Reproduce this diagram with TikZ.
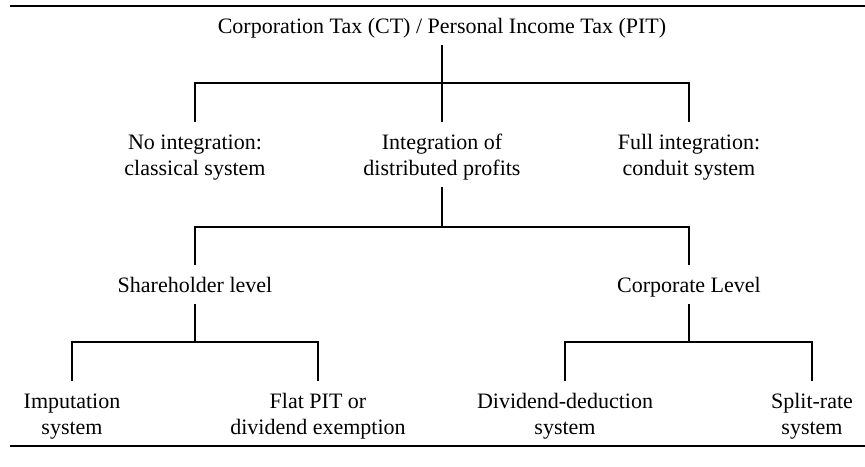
\documentclass[tikz,border=0pt]{standalone}
\usepackage{fontspec}
\setmainfont{Liberation Serif}
\usepackage{tikz}

\tikzset{
  txt/.style={font=\fontsize{22}{26}\selectfont, inner sep=0pt, inner ysep=12pt, text height=15pt, text depth=0pt, anchor=north},
  txttwo/.style={txt, align=center, text height=41pt},
  link/.style={line width=2.7pt},
  hrule/.style={line width=2.9pt}
}

\begin{document}
\begin{tikzpicture}[x=1pt, y=-1pt]
\useasboundingbox (0,0) rectangle (865,466);
% Rules
\draw[hrule] (10,6) -- (865,6);
\draw[hrule] (10,446) -- (865,446);

% Top
\node[txt, anchor=base] (ct) at (442,33) {Corporation Tax (CT) / Personal Income Tax (PIT)};

% First level
\node[txttwo] (noint) at (195,122) {No integration:\\classical system};
\node[txttwo] (intdist) at (442,122) {Integration of\\distributed profits};
\node[txttwo] (fullint) at (689,122) {Full integration:\\conduit system};
\draw[link] (ct.south) -- (intdist.north);
\draw[link] (noint.north) -- ++(0,-39) -| (fullint.north);

% Second level
\node[txt] (shlev) at (195,265) {Shareholder level};
\node[txt] (corplev) at (689,265) {Corporate Level};
\draw[link] (intdist.south) -- ++(0,39);
\draw[link] (shlev.north) -- ++(0,-38) -| (corplev.north);

% Third level
\node[txttwo] (imput) at (72,381) {Imputation\\system};
\node[txttwo] (flatpit) at (318,381) {Flat PIT or\\dividend exemption};
\node[txttwo] (divded) at (565,381) {Dividend-deduction\\system};
\node[txttwo] (split) at (812,381) {Split-rate\\system};
\draw[link] (shlev.south) -- ++(0,38);
\draw[link] (imput.north) -- ++(0,-39) -| (flatpit.north);
\draw[link] (corplev.south) -- ++(0,38);
\draw[link] (divded.north) -- ++(0,-39) -| (split.north);
\end{tikzpicture}
\end{document}
